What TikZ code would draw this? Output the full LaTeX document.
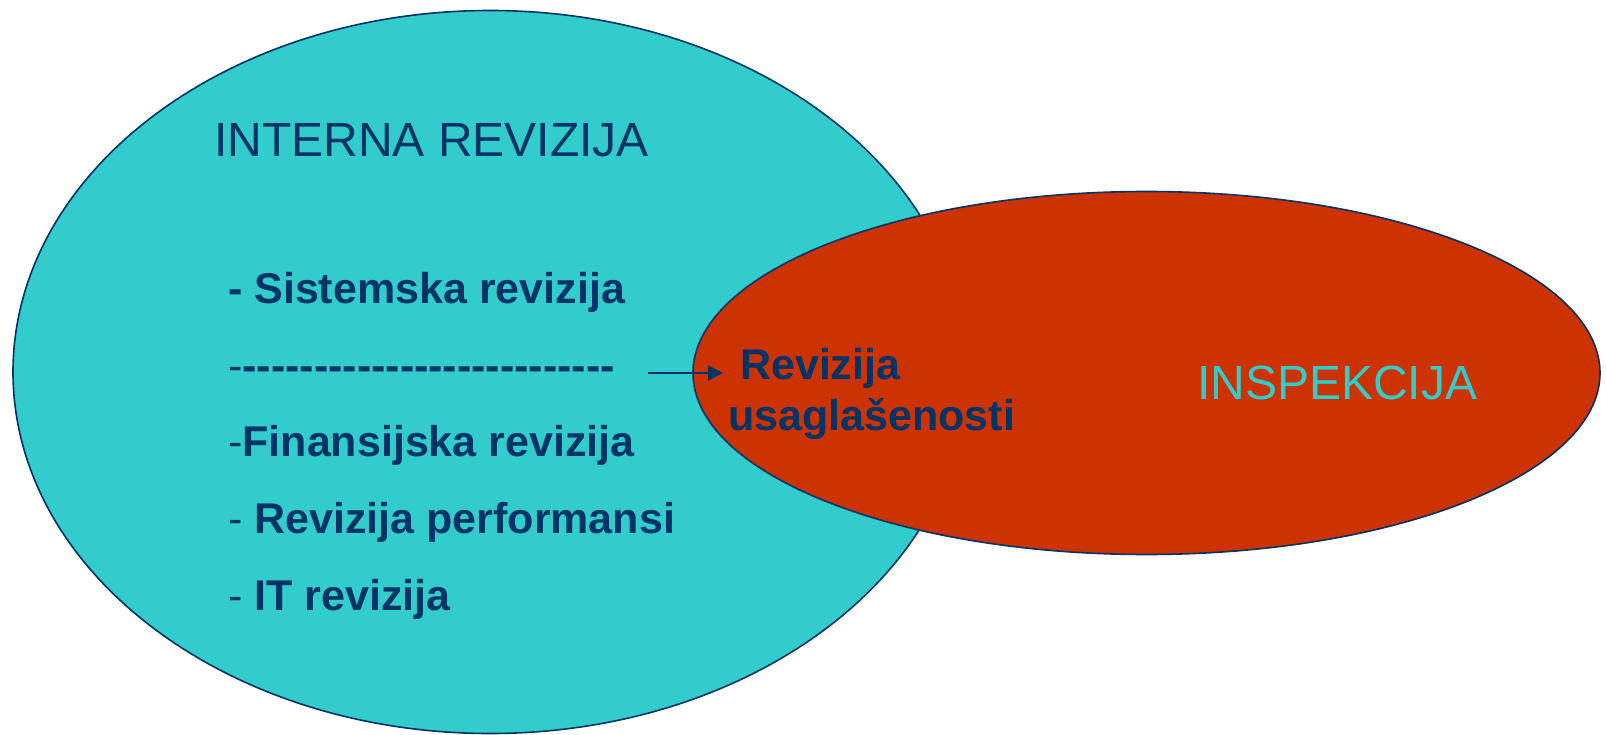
\documentclass[tikz,border=0pt]{standalone}
\usepackage{fontspec}
\newfontfamily\arial{Liberation Sans}
\usetikzlibrary{shapes.geometric,arrows.meta}
\definecolor{cyanfill}{HTML}{33CCCC}
\definecolor{redfill}{HTML}{CC3300}
\definecolor{navy}{HTML}{003366}
\newcommand\dashrow[1]{\foreach \i in {1,...,#1}{-\kern0pt}}
\tikzset{
  blob/.style={ellipse, draw=navy, line width=1.6pt, inner sep=0pt},
  title/.style={anchor=base west, inner sep=0pt, font=\arial\fontsize{48}{56}\selectfont},
  item/.style={anchor=base west, inner sep=0pt, text=navy, font=\arial\fontsize{43}{51}\selectfont},
}
\begin{document}
\begin{tikzpicture}[x=1pt,y=-1pt]
\useasboundingbox (0,0) rectangle (1606,735);
% ellipses
\node[blob, fill=cyanfill, minimum width=954pt, minimum height=723pt] (ir) at (490,372) {};
\node[blob, fill=redfill, minimum width=907pt, minimum height=363pt] (ins) at (1146.5,373) {};
% titles
\node[title, text=navy] (irt) at (214,157) {INTERNA REVIZIJA};
\node[title, text=cyanfill] (inst) at (1197,399) {INSPEKCIJA};
% items
\node[item] (l1) at (228,303) {\bfseries - Sistemska revizija};
\node[item] (l2) at (228,380) {-\kern0pt\bfseries\dashrow{26}};
\node[item] (l3) at (228,456) {-\bfseries Finansijska revizija};
\node[item] (l4) at (228,533) {- \bfseries Revizija performansi};
\node[item] (l5) at (228,610) {- \bfseries IT revizija};
% overlap text
\node[item, align=left] (rev) at (728,430) {\bfseries\hspace*{0.278em}Revizija\\\bfseries usagla\v{s}enosti};
% arrow
\coordinate (astart) at (648,373);
\coordinate (aend) at (astart -| rev.west);
\draw[navy, line width=1.6pt, shorten >=5pt, -{Triangle[length=15pt,width=15pt]}] (astart) -- (aend);
\end{tikzpicture}
\end{document}
